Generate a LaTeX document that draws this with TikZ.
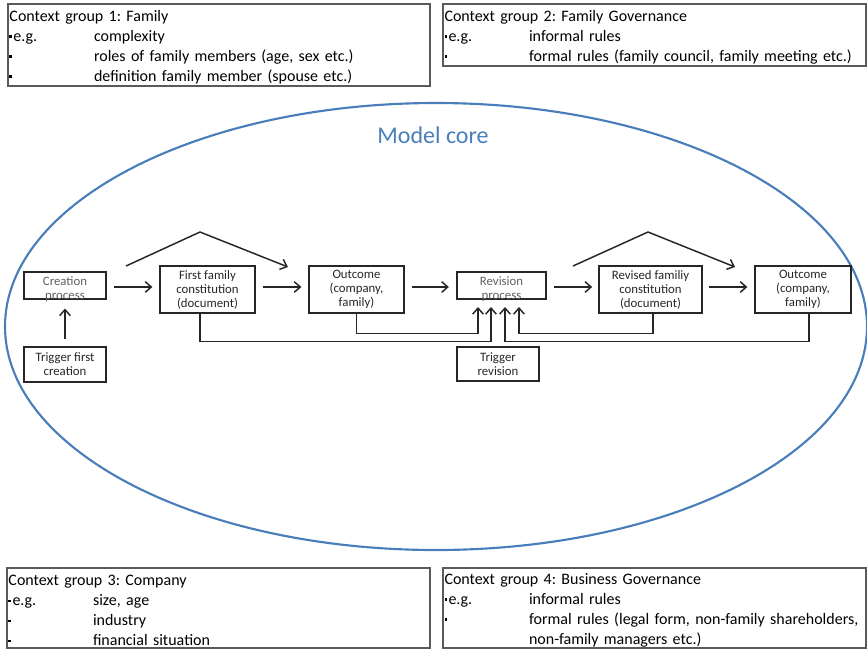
\documentclass[tikz,border=0pt]{standalone}
\usepackage{fontspec}
\setmainfont{Carlito}
\usetikzlibrary{arrows.meta,shapes.geometric}
\definecolor{coreblue}{HTML}{4A7EBB}
\definecolor{frame}{HTML}{5A5A5A}
\definecolor{ink}{HTML}{262626}
\definecolor{soft}{HTML}{5F5F5F}
\frenchspacing

% small square bullet, a tab stop for the context lists, and a taller first line
\newcommand\bul{\makebox[3pt][l]{\rule[2.8pt]{1.9pt}{1.9pt}}}
\newcommand\ctxrow[2]{\makebox[63.4pt][l]{#1}#2}
\newcommand\ctxhead[1]{\rule{0pt}{11.8pt}#1}

\begin{document}
\begin{tikzpicture}[x=0.75pt,y=-0.75pt,
  ctx/.style={draw=frame, line width=1.2pt, rectangle, inner xsep=1.1pt, inner ysep=0pt,
              align=left, font=\fontsize{12}{15}\selectfont, text=black},
  stage/.style={draw=ink, line width=1.1pt, rectangle, inner sep=0pt, align=center,
                font=\fontsize{9.6}{10.5}\selectfont, text=ink},
  stagetext/.style={inner sep=0pt, align=center, font=\fontsize{9.6}{10.5}\selectfont, text=soft},
  arr/.style={draw=ink, line width=1.1pt, -{Straight Barb[length=4.5pt,width=8pt]}},
]
\useasboundingbox (0,0) rectangle (867,651);

% model core
\node[ellipse, draw=coreblue, line width=1.6pt, inner sep=0pt,
      minimum width=862*0.75pt, minimum height=447*0.75pt] (core) at (436,326.5) {};
\node[text=coreblue, font=\fontsize{18}{20}\selectfont] (coretitle) at (433,135) {Model core};

% context groups
\node[ctx, text width=419*0.75pt, minimum height=82*0.75pt] (cg1) at (219,45)
  {\ctxhead{Context group 1: Family}\\
   \ctxrow{\bul e.g.}{complexity}\\
   \ctxrow{\bul}{roles of family members (age, sex etc.)}\\
   \ctxrow{\bul}{definition family member (spouse etc.)}};
\node[ctx, text width=420*0.75pt, minimum height=62*0.75pt] (cg2) at (654.5,35)
  {\ctxhead{Context group 2: Family Governance}\\
   \ctxrow{\bul e.g.}{informal rules}\\
   \ctxrow{\bul}{formal rules (family council, family meeting etc.)}};
\node[ctx, text width=420*0.75pt, minimum height=80*0.75pt] (cg3) at (218.5,608)
  {\ctxhead{Context group 3: Company}\\
   \ctxrow{\bul e.g.}{size, age}\\
   \ctxrow{\bul}{industry}\\
   \ctxrow{\bul}{financial situation}};
\node[ctx, text width=420*0.75pt, minimum height=80*0.75pt] (cg4) at (654.5,608)
  {\ctxhead{Context group 4: Business Governance}\\
   \ctxrow{\bul e.g.}{informal rules}\\
   \ctxrow{\bul}{formal rules (legal form, non-family shareholders,}\\
   \ctxrow{}{non-family managers etc.)}};

% process stages
\node[stage, minimum width=82*0.75pt, minimum height=27*0.75pt] (creation) at (65,285.5) {};
\node[stagetext] (creationtxt) at (65,289.5) {Creation\\process};
\node[stage, minimum width=95*0.75pt, minimum height=47*0.75pt] (first) at (207.5,289.5)
  {First family\\constitution\\(document)};
\node[stage, minimum width=95*0.75pt, minimum height=47*0.75pt] (out1) at (356.5,289.5)
  {Outcome\\(company,\\family)};
\node[stage, minimum width=89*0.75pt, minimum height=27*0.75pt] (revision) at (501.5,285.5) {};
\node[stagetext] (revisiontxt) at (501.5,289.5) {Revision\\process};
\node[stage, minimum width=103*0.75pt, minimum height=47*0.75pt] (revised) at (650.5,289.5)
  {Revised familiy\\constitution\\(document)};
\node[stage, minimum width=96*0.75pt, minimum height=47*0.75pt] (out2) at (803,289.5)
  {Outcome\\(company,\\family)};
\node[stage, minimum width=82*0.75pt, minimum height=35*0.75pt] (trigfirst) at (65,364.5)
  {Trigger first\\creation};
\node[stage, minimum width=82*0.75pt, minimum height=34*0.75pt] (trigrev) at (498,364)
  {Trigger\\revision};

% main flow
\coordinate (row) at (0,287);
\draw[arr, shorten <=5.2pt, shorten >=5.2pt] (creation.east |- row) -- (first.west |- row);
\draw[arr, shorten <=5.2pt, shorten >=5.2pt] (first.east |- row) -- (out1.west |- row);
\draw[arr, shorten <=5.2pt, shorten >=5.6pt] (out1.east |- row) -- (revision.west |- row);
\draw[arr, shorten <=5.2pt, shorten >=4.6pt] (revision.east |- row) -- (revised.west |- row);
\draw[arr, shorten <=4.6pt, shorten >=5.2pt] (revised.east |- row) -- (out2.west |- row);
\draw[arr, shorten <=5.2pt, shorten >=6.6pt] (trigfirst.north) -- (creation.south);

% bypass arrows over the constitution boxes
\coordinate (r1s) at (126,266);
\coordinate (r1a) at (200,232);
\coordinate (r1e) at (288,267);
\coordinate (r2s) at (573,266);
\coordinate (r2a) at (648,232);
\coordinate (r2e) at (735,267);
\draw[arr] (r1s) -- (r1a) -- (r1e);
\draw[arr] (r2s) -- (r2a) -- (r2e);

% feedback into the revision process
\coordinate (in1) at (478,307);
\coordinate (in2) at (491,307);
\coordinate (in3) at (505,307);
\coordinate (in4) at (519,307);
\draw[arr] (out1.south) -- ++(0,20) -| (in1);
\draw[arr] ([xshift=-5.6pt]first.south) -- ++(0,28) -| (in2);
\draw[arr] ([xshift=4.5pt]out2.south) -- ++(0,28) -| (in3);
\draw[arr] ([xshift=1.9pt]revised.south) -- ++(0,20) -| (in4);
\end{tikzpicture}
\end{document}
